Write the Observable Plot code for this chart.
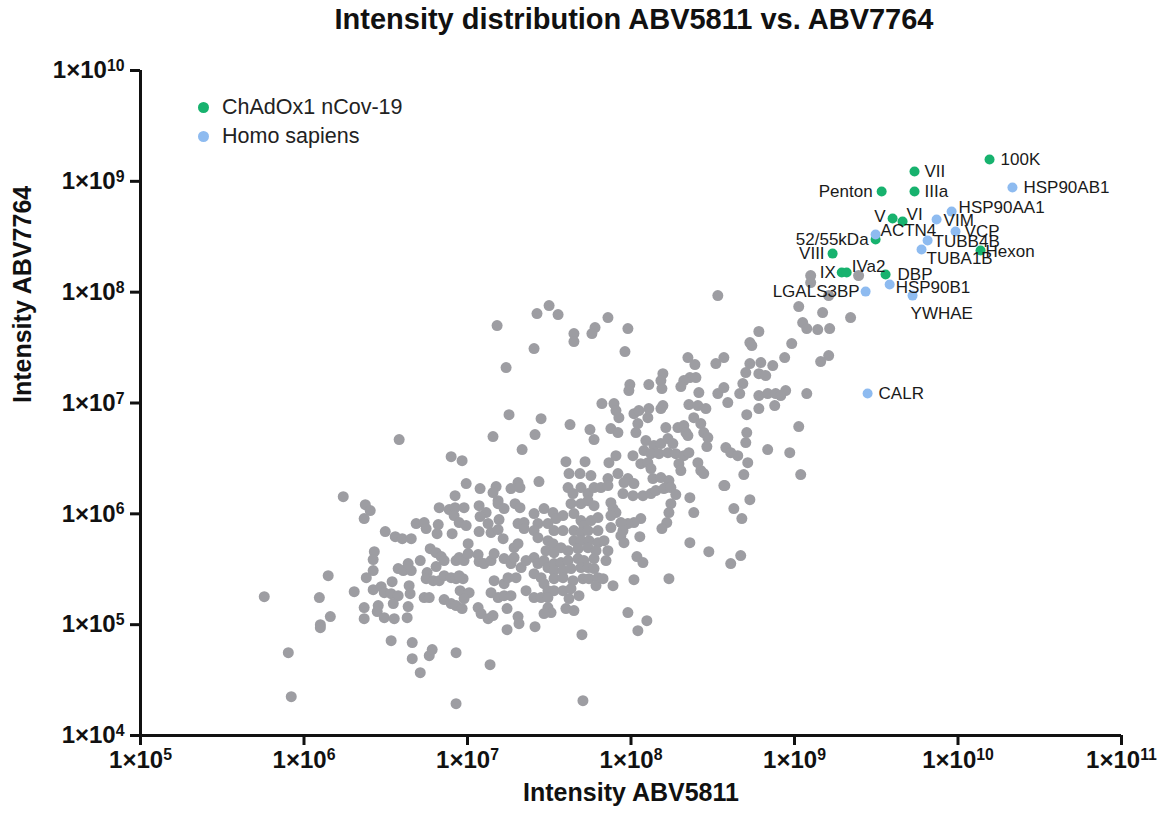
<!DOCTYPE html>
<html>
<head>
<meta charset="utf-8">
<script src="https://cdn.jsdelivr.net/npm/d3@7"></script>
<script src="https://cdn.jsdelivr.net/npm/@observablehq/plot@0.6"></script>
<style>
  html, body { margin: 0; padding: 0; background: #fff; }
  #wrap { position: relative; width: 1164px; height: 822px; font-family: "Liberation Sans", Arial, Helvetica, sans-serif; }
  #title { position: absolute; left: 104px; right: 0; top: 0; height: 40px; line-height: 38px; text-align: center; font-size: 29px; font-weight: bold; color: #111; }
  #chart { position: absolute; left: 0; top: 40px; }
  #legend { position: absolute; left: 198px; top: 93px; font-size: 21.5px; color: #222; }
  #legend .row { display: flex; align-items: center; height: 29px; }
  #legend .sw { width: 11px; height: 11px; border-radius: 50%; margin-right: 13px; }
</style>
</head>
<body>
<div id="wrap">
  <div id="title">Intensity distribution ABV5811 vs. ABV7764</div>
  <div id="chart"></div>
  <div id="legend"></div>
</div>
<script>
// ---------- DATA (log10 of intensities) ----------
const seriesNames = ["ChAdOx1 nCov-19", "Homo sapiens"];
const seriesColors = ["#17b26e", "#8ebbf0"];
const grayColor = "#9d9da2";

// Unlabelled background proteins: log10(Intensity ABV5811), log10(Intensity ABV7764)
const grayLogABV5811 = [
7.499,7.425,7.554,7.859,7.181,7.780,7.761,7.651,7.651,7.407,7.236,7.981,7.963,8.531,9.099,9.099,9.392,9.209,9.026,9.172,
9.343,9.050,9.075,9.142,9.215,8.782,8.727,8.739,8.983,8.940,9.209,9.160,8.348,8.391,8.519,8.568,8.727,8.794,8.867,8.702,
8.782,8.824,8.195,8.183,8.360,8.397,8.323,8.305,7.993,7.987,8.109,8.189,8.415,8.531,8.568,8.684,8.665,8.782,8.836,8.885,
8.946,8.916,9.075,8.592,8.879,8.354,8.409,8.458,7.822,7.896,7.908,7.926,8.018,8.048,8.109,8.103,8.183,8.195,8.384,8.427,
8.782,8.708,7.877,7.920,8.042,8.030,8.213,8.287,8.323,8.336,8.348,8.445,8.470,8.708,8.702,9.026,8.091,8.140,8.183,8.226,
8.256,8.079,8.122,8.171,8.226,8.274,8.323,8.354,8.464,8.580,8.610,8.653,8.714,8.836,8.971,8.012,7.908,7.865,8.060,8.103,
8.122,8.293,8.305,8.409,8.427,8.445,8.690,9.038,7.920,7.981,8.018,7.859,8.134,8.183,8.232,8.213,8.568,7.254,7.450,7.627,
7.749,6.582,7.156,7.413,7.774,7.334,6.900,6.967,7.602,7.719,7.621,7.688,7.755,6.992,7.077,7.175,7.309,7.266,7.437,7.321,
7.156,6.240,6.924,7.187,
7.615,7.645,7.694,7.737,7.774,7.816,7.633,7.694,7.737,7.774,7.468,7.523,7.541,7.584,7.407,7.431,7.407,7.431,7.492,7.529,
7.584,7.651,7.694,7.712,7.755,7.798,7.651,7.694,7.737,7.798,7.492,7.523,7.572,7.651,7.694,7.743,7.798,7.480,7.529,7.615,
7.676,7.737,7.786,7.407,7.431,7.468,7.492,7.529,7.572,7.615,7.676,7.712,7.774,7.529,7.584,7.633,7.694,7.737,7.774,7.407,
7.450,7.468,7.529,7.584,7.645,7.706,7.743,7.798,7.786,7.492,7.529,7.584,7.633,7.407,7.450,7.492,7.621,7.682,7.492,7.511,
7.468,7.602,7.651,7.413,7.700,7.706,
6.375,6.405,6.368,6.497,6.558,6.601,6.656,6.430,6.423,6.423,6.381,6.307,6.423,6.472,6.491,6.539,6.576,6.607,6.637,6.656,
6.533,6.576,6.546,6.643,6.649,6.368,6.454,6.448,6.368,6.491,6.552,6.631,6.637,6.148,5.757,6.094,6.161,6.100,6.100,5.904,
5.922,6.533,6.662,6.662,6.711,6.766,6.784,6.930,6.930,7.138,7.242,7.309,7.315,6.711,6.686,6.735,6.747,6.827,6.821,6.814,
6.906,6.888,6.924,6.979,6.918,6.949,6.992,7.071,7.114,7.077,7.187,7.224,7.193,7.126,7.071,7.144,7.187,7.218,7.291,7.321,
7.309,7.346,7.346,7.004,6.772,6.808,6.839,6.857,6.930,6.949,6.979,7.004,7.065,7.071,7.101,7.144,7.163,7.224,7.266,7.285,
7.309,7.285,7.328,6.808,6.753,6.747,6.790,6.827,6.857,6.900,6.930,6.973,6.949,6.955,7.010,6.979,6.735,6.766,6.857,6.900,
6.930,6.967,7.065,7.083,7.126,7.156,7.144,7.187,7.224,7.266,7.242,7.163,7.224,7.248,7.297,7.358,7.358,
7.859,7.957,7.951,8.012,8.073,8.122,8.152,8.201,8.244,8.274,7.877,7.890,7.908,7.877,8.244,8.232,8.219,8.189,8.060,8.018,
7.981,7.938,7.877,7.951,7.938,7.957,8.054,7.835,7.859,7.847,8.036,8.073,7.829,7.890,8.018,8.232,8.360,8.384,8.574,8.727,
8.629,8.678,8.360,8.476,8.610,8.671,7.981,8.097,8.042
];
const grayLogABV7764 = [
7.879,7.807,7.798,7.771,7.699,7.681,7.626,7.626,7.554,7.491,7.320,7.672,7.464,7.969,8.150,8.087,8.150,7.969,7.870,7.816,
7.771,7.726,7.672,7.663,7.672,7.645,7.545,7.518,7.536,7.410,7.428,7.374,7.410,7.347,7.356,7.410,7.356,7.365,7.338,7.275,
7.265,7.247,7.265,7.202,7.229,7.229,7.202,7.148,7.166,7.112,7.166,7.130,7.094,7.085,7.139,7.175,7.085,7.067,7.085,7.085,
7.112,7.067,7.085,7.004,6.977,6.986,6.977,6.950,6.995,6.995,6.932,6.868,6.904,6.932,6.950,6.868,6.950,6.977,6.868,6.814,
6.950,6.895,6.769,6.733,6.814,6.733,6.778,6.778,6.796,6.733,6.706,6.733,6.688,6.733,6.643,6.787,6.661,6.616,6.634,6.679,
6.634,6.571,6.543,6.543,6.552,6.543,6.525,6.552,6.607,6.598,6.552,6.525,6.462,6.580,6.552,6.525,6.525,6.462,6.453,6.462,
6.408,6.453,6.390,6.462,6.390,6.363,6.354,6.354,6.363,6.318,6.273,6.318,6.318,6.327,6.300,6.237,6.255,6.895,6.859,6.805,
6.760,6.670,6.697,6.715,6.670,6.580,6.516,6.480,6.471,6.471,6.363,6.363,6.345,6.273,6.228,6.246,6.282,6.228,6.291,6.237,
6.192,6.155,6.164,6.119,
6.237,6.183,6.237,6.183,6.237,6.237,6.092,6.092,6.119,6.074,6.047,6.011,5.957,5.984,6.002,5.912,5.849,5.785,5.912,5.849,
5.849,6.002,5.939,5.894,5.939,5.966,5.849,5.831,5.849,5.849,5.758,5.731,5.695,5.758,5.758,5.758,5.740,5.668,5.650,5.668,
5.686,5.695,5.668,5.605,5.551,5.578,5.515,5.551,5.560,5.578,5.596,5.578,5.596,5.488,5.488,5.506,5.515,5.515,5.506,5.460,
5.424,5.370,5.415,5.424,5.397,5.415,5.415,5.424,5.352,5.307,5.307,5.307,5.325,5.244,5.244,5.244,5.235,5.262,5.154,5.109,
5.100,5.145,5.127,4.982,4.910,4.314,
6.083,6.029,5.957,5.840,5.794,5.776,5.776,5.659,5.587,5.488,5.424,5.298,5.316,5.343,5.289,5.388,5.506,5.488,5.551,5.488,
5.280,5.262,5.190,5.352,5.280,5.154,5.172,5.118,5.054,5.063,5.054,5.063,5.163,5.442,5.253,5.244,5.073,5.000,4.973,4.747,
4.350,4.856,4.838,4.693,4.567,4.720,4.775,4.747,4.287,4.639,4.955,5.073,5.009,5.578,5.912,5.921,5.867,6.056,5.903,5.821,
5.821,6.038,6.056,6.056,5.984,5.921,5.894,6.074,6.011,5.975,6.092,6.047,5.948,5.912,5.840,5.831,5.858,5.776,6.092,6.056,
5.912,5.921,5.867,5.731,5.686,5.650,5.614,5.578,5.578,5.605,5.578,5.641,5.632,5.569,5.551,5.578,5.641,5.596,5.551,5.695,
5.731,5.605,5.515,5.524,5.470,5.415,5.397,5.397,5.442,5.424,5.415,5.415,5.442,5.307,5.289,5.235,5.244,5.244,5.226,5.190,
5.172,5.145,5.154,5.100,5.054,5.082,5.289,5.244,5.262,5.262,5.145,5.397,5.370,5.424,5.424,5.307,5.578,
6.255,6.282,6.183,6.164,6.164,6.183,6.210,6.228,6.237,6.174,6.101,6.047,6.011,5.984,6.092,6.011,5.921,5.867,5.957,5.921,
5.912,5.921,5.876,5.849,5.803,5.740,5.794,5.758,5.668,5.578,5.614,5.560,5.415,5.352,5.406,5.415,6.146,6.011,6.255,6.128,
6.047,5.957,5.740,5.659,5.551,5.623,5.109,5.036,4.946
];

// Highlighted proteins
const hiNames = ["100K","VII","Penton","IIIa","V","VI","52/55kDa","Hexon","VIII","IX","IVa2","DBP",
                 "HSP90AB1","HSP90AA1","VIM","VCP","ACTN4","TUBB4B","TUBA1B","HSP90B1","LGALS3BP","YWHAE","CALR"];
const hiSeries = [0,0,0,0,0,0,0,0,0,0,0,0, 1,1,1,1,1,1,1,1,1,1,1];
const hiLogABV5811 = [10.193,9.734,9.533,9.734,9.600,9.661,9.496,10.138,9.233,9.289,9.319,9.557,
                      10.333,9.961,9.869,9.985,9.496,9.814,9.777,9.582,9.435,9.722,9.447];
const hiLogABV7764 = [9.197,9.088,8.908,8.908,8.664,8.637,8.475,8.376,8.348,8.177,8.177,8.159,
                      8.944,8.727,8.655,8.547,8.520,8.466,8.385,8.069,8.005,7.969,7.085];

const xTicks = [1e5, 1e6, 1e7, 1e8, 1e9, 1e10, 1e11];
const yTicks = [1e4, 1e5, 1e6, 1e7, 1e8, 1e9, 1e10];

// label placement (layout only): [dx, dy, anchor]
const labelPlacement = {
  "100K":[11,0,"start"], "VII":[10,0,"start"], "Penton":[-9,0,"end"], "IIIa":[10,0,"start"],
  "V":[-7,-2,"end"], "VI":[4,-7,"start"], "52/55kDa":[-7,0,"end"], "Hexon":[5,1,"start"],
  "VIII":[-8,0,"end"], "IX":[-6,0,"end"], "IVa2":[5,-6,"start"], "DBP":[12,0,"start"],
  "HSP90AB1":[11,0,"start"], "HSP90AA1":[7,-4,"start"], "VIM":[7,1,"start"], "VCP":[9,0,"start"],
  "ACTN4":[5,-4,"start"], "TUBB4B":[6,1,"start"], "TUBA1B":[5,9,"start"], "HSP90B1":[6,3,"start"],
  "LGALS3BP":[-6,0,"end"], "YWHAE":[-2,18,"start"], "CALR":[11,0,"start"]
};

// ---------- build tables ----------
const gray = grayLogABV5811.map((lx, i) => ({x: 10 ** lx, y: 10 ** grayLogABV7764[i]}));
const hi = hiNames.map((name, i) => ({
  name, series: seriesNames[hiSeries[i]],
  x: 10 ** hiLogABV5811[i], y: 10 ** hiLogABV7764[i]
}));

const fmt = d => `1×10^${Math.round(Math.log10(d))}`;
const font = "'Liberation Sans', Arial, Helvetica, sans-serif";

const labelMarks = hi.map(d => {
  const [dx, dy, anchor] = labelPlacement[d.name];
  return Plot.text([d], {x: "x", y: "y", text: "name", dx, dy, textAnchor: anchor,
    fontSize: 17, fontWeight: "normal", fill: "#1a1a1a"});
});

const svg = Plot.plot({
  width: 1164, height: 782,
  marginTop: 30, marginBottom: 87, marginLeft: 140, marginRight: 43,
  style: {fontFamily: font, fontSize: "21px", fontWeight: "bold", color: "#111", background: "transparent", overflow: "visible"},
  x: {type: "log", domain: [1e5, 1e11]},
  y: {type: "log", domain: [1e4, 1e10]},
  color: {domain: seriesNames, range: seriesColors},
  marks: [
    Plot.dot(gray, {x: "x", y: "y", r: 5.5, fill: grayColor}),
    Plot.dot(hi, {x: "x", y: "y", r: 5, fill: "series"}),
    ...labelMarks,
    Plot.ruleY([1e4], {stroke: "#111", strokeWidth: 3}),
    Plot.ruleX([1e5], {stroke: "#111", strokeWidth: 3}),
    Plot.axisX({ticks: xTicks, tickFormat: fmt, tickSize: 10, tickPadding: 5, strokeWidth: 3, label: null, fontSize: 24, fontWeight: "bold"}),
    Plot.axisY({ticks: yTicks, tickFormat: fmt, tickSize: 10, tickPadding: 6, strokeWidth: 3, label: null, fontSize: 24, fontWeight: "bold"}),
    Plot.text(["Intensity ABV5811"], {frameAnchor: "bottom", dy: 65, text: d => d, fontSize: 25, fontWeight: "bold"}),
    Plot.text(["Intensity ABV7764"], {frameAnchor: "left", dx: -118, rotate: -90, text: d => d, fontSize: 25, fontWeight: "bold"})
  ]
});

// superscript exponents on tick labels, and tick-label font size
const NS = "http://www.w3.org/2000/svg";
svg.querySelectorAll('g[aria-label="x-axis tick label"], g[aria-label="y-axis tick label"]').forEach(g => {
  g.setAttribute("font-size", "24");
  g.style.fontSize = "24px";
  g.setAttribute("font-weight", "bold");
});
svg.querySelectorAll('g[aria-label="x-axis tick label"] text, g[aria-label="y-axis tick label"] text').forEach(t => {
  const s = t.textContent;
  if (!s.includes("^")) return;
  const [base, exp] = s.split("^");
  t.textContent = base;
  const ts = document.createElementNS(NS, "tspan");
  ts.setAttribute("dy", "-0.45em");
  ts.setAttribute("font-size", "0.66em");
  ts.textContent = exp;
  t.appendChild(ts);
});

document.getElementById("chart").appendChild(svg);

// legend
const legend = document.getElementById("legend");
seriesNames.forEach((n, i) => {
  const row = document.createElement("div");
  row.className = "row";
  const sw = document.createElement("span");
  sw.className = "sw";
  sw.style.background = seriesColors[i];
  const tx = document.createElement("span");
  tx.textContent = n;
  row.appendChild(sw); row.appendChild(tx);
  legend.appendChild(row);
});
</script>
</body>
</html>
